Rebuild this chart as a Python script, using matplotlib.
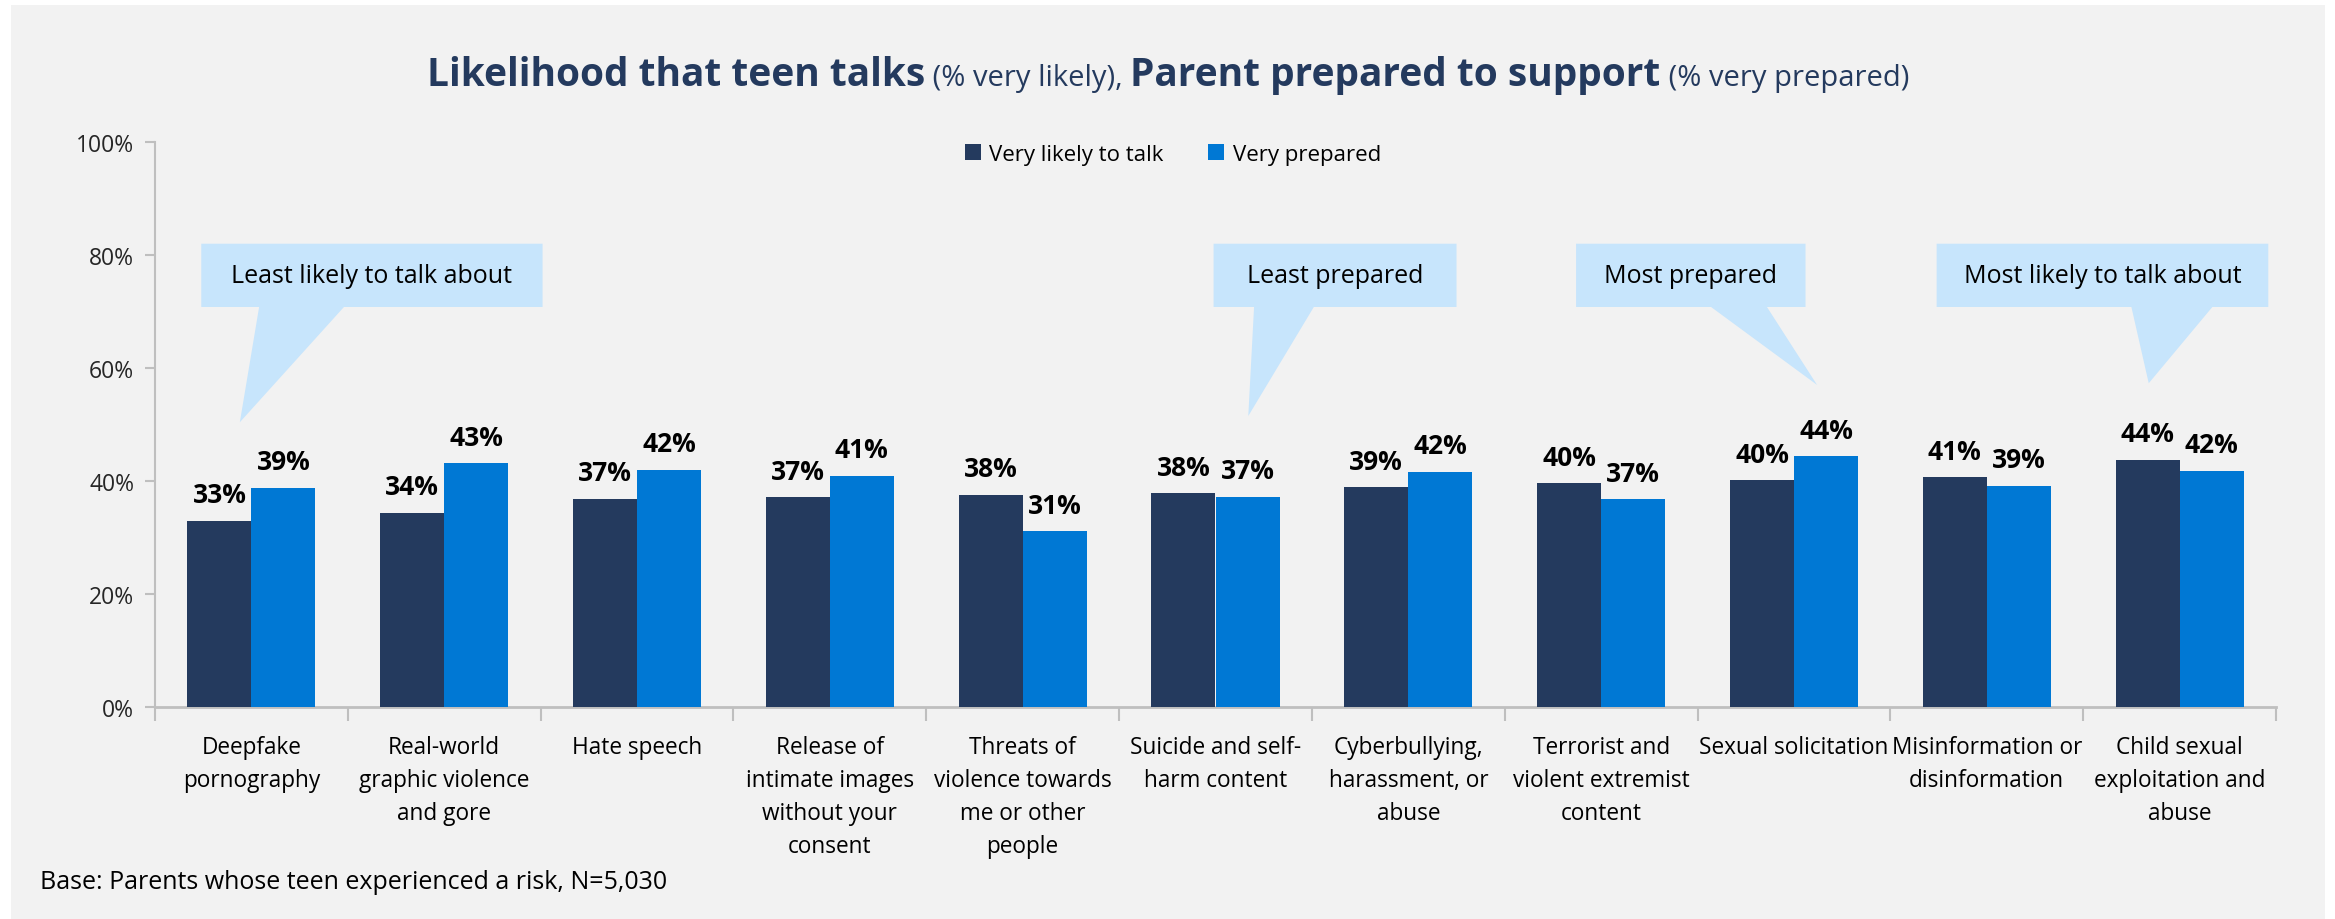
import matplotlib.pyplot as plt
import numpy as np
from matplotlib.patches import Polygon, Rectangle

categories = [
    "Deepfake\npornography",
    "Real-world\ngraphic violence\nand gore",
    "Hate speech",
    "Release of\nintimate images\nwithout your\nconsent",
    "Threats of\nviolence towards\nme or other\npeople",
    "Suicide and self-\nharm content",
    "Cyberbullying,\nharassment, or\nabuse",
    "Terrorist and\nviolent extremist\ncontent",
    "Sexual solicitation",
    "Misinformation or\ndisinformation",
    "Child sexual\nexploitation and\nabuse",
]
likely_talk = [33.0, 34.4, 36.9, 37.1, 37.6, 37.8, 38.9, 39.6, 40.1, 40.7, 43.8]
prepared = [38.8, 43.1, 42.0, 40.9, 31.1, 37.2, 41.6, 36.8, 44.4, 39.2, 41.8]
series_names = ["Very likely to talk", "Very prepared"]
y_ticks = [0, 20, 40, 60, 80, 100]

# callout text, box (x0, x1, y0, y1), tail base (b0, b1), tail tip (tx, ty)
callouts = [
    ("Least likely to talk about", (-0.26, 1.51, 70.8, 82.0), (0.04, 0.48), (-0.06, 50.4)),
    ("Least prepared", (4.99, 6.25, 70.8, 82.0), (5.20, 5.51), (5.17, 51.5)),
    ("Most prepared", (6.87, 8.06, 70.8, 82.0), (7.57, 7.86), (8.12, 57.0)),
    ("Most likely to talk about", (8.74, 10.46, 70.8, 82.0), (9.75, 10.17), (9.84, 57.3)),
]

NAVY = "#243A5E"
BLUE = "#0078D4"
BG = "#F2F2F2"
CALLOUT = "#C7E5FC"
AXIS = "#BFBFBF"

plt.rcParams["font.family"] = ["Open Sans", "DejaVu Sans"]

W, H = 2335, 920
fig = plt.figure(figsize=(W / 100, H / 100), dpi=100, facecolor="white")
fig.patches.append(
    Rectangle((11 / W, 0), (2325 - 11) / W, 1 - 6 / H, transform=fig.transFigure,
              facecolor=BG, edgecolor="none", zorder=-10)
)

ax = fig.add_axes([155 / W, 1 - 708 / H, (2276 - 155) / W, (708 - 143) / H])
ax.set_facecolor("none")

x = np.arange(len(categories))
width = 0.332
b1 = ax.bar(x - width / 2, likely_talk, width, color=NAVY, label=series_names[0], zorder=3)
b2 = ax.bar(x + width / 2, prepared, width, color=BLUE, label=series_names[1], zorder=3)

for bars, vals in [(b1, likely_talk), (b2, prepared)]:
    for rect, v in zip(bars, vals):
        ax.annotate(f"{round(v)}%", (rect.get_x() + rect.get_width() / 2, v),
                    xytext=(0, 9), textcoords="offset points", ha="center", va="bottom",
                    fontsize=19, fontweight="bold", color="black", zorder=5)

# Выноски
for text, (x0, x1, y0, y1), (c0, c1), (tx, ty) in callouts:
    pts = [(x0, y1), (x1, y1), (x1, y0), (c1, y0), (tx, ty), (c0, y0), (x0, y0)]
    ax.add_patch(Polygon(pts, closed=True, facecolor=CALLOUT, edgecolor="none",
                         clip_on=False, zorder=4))
    ax.text((x0 + x1) / 2, (y0 + y1) / 2, text, ha="center", va="center",
            fontsize=18, color="black", zorder=6)

ax.set_xlim(-0.5, len(categories) - 0.5)
ax.set_ylim(0, 100)
ax.set_yticks(y_ticks)
ax.set_yticklabels([f"{t}%" for t in y_ticks], fontsize=16.5, color="#262626")
ax.set_xticks(x)
ax.set_xticklabels(categories, fontsize=16.3, color="black", linespacing=1.5, va="top")
ax.set_xticks(np.arange(-0.5, len(categories)), minor=True)
ax.tick_params(axis="x", which="major", length=0, pad=20)
ax.tick_params(axis="x", which="minor", length=10, width=1.5, color=AXIS)
ax.tick_params(axis="y", length=7, width=1.5, color=AXIS, pad=8)

for side in ["top", "right"]:
    ax.spines[side].set_visible(False)
ax.spines["left"].set_color(AXIS)
ax.spines["left"].set_linewidth(1.5)
ax.spines["bottom"].set_color(AXIS)
ax.spines["bottom"].set_linewidth(2)

fig.legend(loc="center", bbox_to_anchor=(1173 / W, 1 - 155 / H), ncol=2, frameon=False,
           fontsize=16, handlelength=0.7, handleheight=0.7, handletextpad=0.4,
           columnspacing=2.0)

# Заголовок из нескольких частей
parts = [
    ("Likelihood that teen talks", 28, "bold"),
    (" (% very likely), ", 21, "normal"),
    ("Parent prepared to support", 28, "bold"),
    (" (% very prepared)", 21, "normal"),
]
renderer = fig.canvas.get_renderer()
texts = []
for s, size, weight in parts:
    t = fig.text(0, 0, s, fontsize=size, fontweight=weight, color=NAVY, va="baseline")
    texts.append(t)
widths = [t.get_window_extent(renderer).width for t in texts]
start = 1168 - sum(widths) / 2
for t, w in zip(texts, widths):
    t.set_x(start / W)
    t.set_y(1 - 86 / H)
    start += w

fig.text(40 / W, 1 - 883 / H, "Base: Parents whose teen experienced a risk, N=5,030",
         fontsize=18, color="black", va="center")

fig.savefig("out.png", dpi=100, facecolor="white")
